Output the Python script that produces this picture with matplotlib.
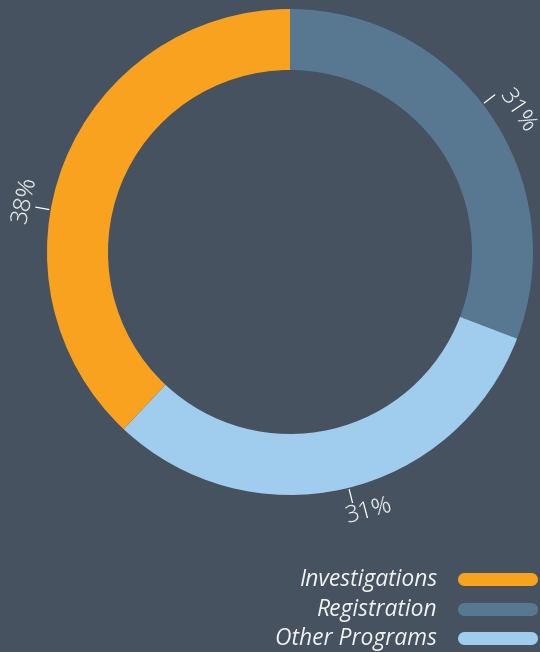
import numpy as np
import matplotlib.pyplot as plt

# Data
categories = ["Investigations", "Registration", "Other Programs"]
shares = [38.0, 30.8, 31.2]
colors = ["#F9A21F", "#587791", "#A0CCEE"]

bg = "#46525F"

fig = plt.figure(figsize=(5.4, 6.52), dpi=100, facecolor=bg)
ax = fig.add_axes([0, 0, 1, 1])
ax.set_facecolor(bg)

# pixel-like coordinates, y up
cx, cy = 290, 652 - 252
R, width = 243, 61

# drawing order: Registration from top clockwise, then Other Programs, then Investigations
order = [1, 2, 0]
ax.pie([shares[i] for i in order], colors=[colors[i] for i in order],
       radius=R, center=(cx, cy), startangle=90, counterclock=False,
       wedgeprops=dict(width=width, linewidth=0))

# labels: tick angle, label angle, label radius, rotation (layout only)
label_pos = {1: (37.5, 31.8, 267, -56), 0: (170.0, 168.9, 270, 78), 2: (-76.0, -72.9, 271, 15)}
for i, (ta, la, lr, rot) in label_pos.items():
    t = np.deg2rad(ta)
    ax.plot([cx + (R + 2) * np.cos(t), cx + (R + 15) * np.cos(t)],
            [cy + (R + 2) * np.sin(t), cy + (R + 15) * np.sin(t)],
            color="white", lw=0.9)
    a = np.deg2rad(la)
    ax.text(cx + lr * np.cos(a), cy + lr * np.sin(a), f"{round(shares[i])}%",
            rotation=rot, rotation_mode="anchor", ha="center", va="center",
            color="white", fontsize=17.5, family="Open Sans", fontweight="light")

# legend
rows_y = [652 - 579.5, 652 - 609.5, 652 - 639]
bars_y = [652 - 578.5, 652 - 608.5, 652 - 637.5]
for name, col, y, by in zip(categories, colors, rows_y, bars_y):
    ax.text(437, y, name, ha="right", va="center", color="#F2F2F2",
            fontsize=16.5, family="Open Sans", style="italic")
    ax.plot([463.5, 530.5], [by, by], color=col, lw=9.4, solid_capstyle="round")

ax.set_xlim(0, 540)
ax.set_ylim(0, 652)
ax.set_aspect("auto")
ax.axis("off")

fig.savefig("out.png", dpi=100, facecolor=bg)
